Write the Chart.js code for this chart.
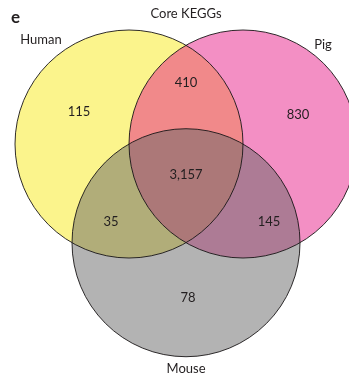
<!DOCTYPE html>
<html>
<head>
<meta charset="utf-8">
<script src="https://cdn.jsdelivr.net/npm/chart.js@4/dist/chart.umd.min.js"></script>
<style>
  html, body { margin: 0; padding: 0; background: #ffffff; }
  #wrap { width: 349px; height: 377px; position: relative; }
</style>
</head>
<body>
<div id="wrap"><canvas id="venn"></canvas></div>
<script>
// Three species sets (circles in unit coordinates, radius 1)
const sets = ['Human', 'Pig', 'Mouse'];
const setCenterX = [-0.5, 0.5, 0];
const setCenterY = [0, 0, -0.866];
const setRadius = [1.0, 1.0, 1.0];

// Region counts of shared core KEGG pathways
const regions = ['Human only', 'Human ∩ Pig', 'Pig only', 'Human ∩ Pig ∩ Mouse', 'Human ∩ Mouse', 'Pig ∩ Mouse', 'Mouse only'];
const regionCounts = [115, 410, 830, 3157, 35, 145, 78];

const chartTitle = 'Core KEGGs';
const panelLetter = 'e';

// ---- presentation ----
const fills = ['rgba(247,233,25,0.5)', 'rgba(231,31,137,0.5)', 'rgba(103,103,103,0.5)'];
const outline = 'rgba(25,22,23,0.9)';
const textColor = '#231f20';
const fontFamily = 'Lato, "Open Sans", sans-serif';

// label anchors in the same unit coordinates as the circles
const regionLabelAt = [[-0.939, 0.281], [0, 0.54], [0.982, 0.254], [0, -0.272], [-0.658, -0.684], [0.728, -0.684], [0.018, -1.35]];
const setLabelAt = [[-1.272, 0.912], [1.202, 0.868], [0, -1.974]];
const titleAt = [0, 1.14];

function pxRadius(chart, r) {
  const s = chart.scales.x;
  return Math.abs(s.getPixelForValue(r) - s.getPixelForValue(0));
}

const datasets = [];
sets.forEach((name, i) => {
  // filled disc; earlier sets are painted first
  datasets.push({
    label: name,
    data: [{ x: setCenterX[i], y: setCenterY[i] }],
    order: 10 - i,
    clip: false,
    pointRadius: ctx => pxRadius(ctx.chart, setRadius[i]),
    pointBackgroundColor: fills[i],
    pointBorderWidth: 0,
    pointBorderColor: 'rgba(0,0,0,0)'
  });
});
sets.forEach((name, i) => {
  // outlines on top of all fills
  datasets.push({
    label: name + ' outline',
    data: [{ x: setCenterX[i], y: setCenterY[i] }],
    order: 0,
    clip: false,
    pointRadius: ctx => pxRadius(ctx.chart, setRadius[i]),
    pointBackgroundColor: 'rgba(0,0,0,0)',
    pointBorderWidth: 1,
    pointBorderColor: outline
  });
});

const labelPlugin = {
  id: 'vennLabels',
  afterDatasetsDraw(chart) {
    const { ctx } = chart;
    const sx = chart.scales.x, sy = chart.scales.y;
    const px = p => [sx.getPixelForValue(p[0]), sy.getPixelForValue(p[1])];
    ctx.save();
    ctx.fillStyle = textColor;
    ctx.textAlign = 'center';
    ctx.textBaseline = 'middle';

    ctx.font = '13px ' + fontFamily;
    regionCounts.forEach((v, i) => {
      const [x, y] = px(regionLabelAt[i]);
      ctx.fillText(v.toLocaleString('en-US'), x, y);
    });

    sets.forEach((name, i) => {
      const [x, y] = px(setLabelAt[i]);
      ctx.fillText(name, x, y);
    });

    const [tx, ty] = px(titleAt);
    ctx.fillText(chartTitle, tx, ty);

    ctx.font = 'bold 17px ' + fontFamily;
    ctx.textAlign = 'left';
    ctx.textBaseline = 'alphabetic';
    ctx.fillText(panelLetter, 11, 23);
    ctx.restore();
  }
};

new Chart(document.getElementById('venn'), {
  type: 'scatter',
  data: { datasets },
  options: {
    responsive: true,
    maintainAspectRatio: false,
    animation: false,
    events: [],
    layout: { padding: 0 },
    plugins: { legend: { display: false }, tooltip: { enabled: false } },
    scales: {
      x: { type: 'linear', min: -1.6316, max: 1.4298, display: false },
      y: { type: 'linear', min: -2.0439, max: 1.2632, display: false }
    }
  },
  plugins: [labelPlugin]
});
</script>
</body>
</html>
